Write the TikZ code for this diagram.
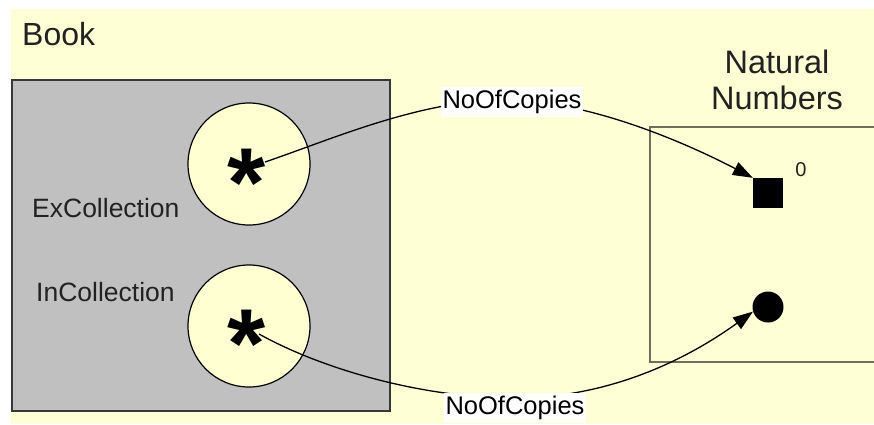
\documentclass[tikz,border=0pt]{standalone}
\usepackage{fontspec}
\setmainfont{Liberation Sans}
\usetikzlibrary{arrows.meta}
\definecolor{bgyel}{HTML}{FFFFD5}
\definecolor{cirfill}{HTML}{FFFFD2}
\definecolor{boxgray}{HTML}{C0C0C0}
\definecolor{boxedge}{HTML}{383838}
\definecolor{nnedge}{HTML}{6E6E5E}
\definecolor{txt}{HTML}{222222}
\begin{document}
\begin{tikzpicture}[x=1pt,y=-1pt,
  title/.style={font=\fontsize{32}{36}\selectfont, text=txt, inner sep=0pt},
  setlabel/.style={font=\fontsize{26.5}{30}\selectfont, text=txt, inner sep=0pt, anchor=base west},
  rolelabel/.style={font=\fontsize{25.5}{28}\selectfont, text=black, fill=white, inner xsep=1.5pt, inner ysep=3pt},
  elemcircle/.style={circle, draw=black, line width=1.2pt, fill=cirfill, minimum size=122pt, inner sep=0pt},
  star/.style={font=\bfseries\fontsize{98}{98}\selectfont, inner sep=0pt, anchor=base},
  conn/.style={line width=1.3pt, -{Triangle[length=20pt,width=14pt]}}
]
\useasboundingbox (0,0) rectangle (874,424);
\fill[white] (0,0) rectangle (874,424);
\fill[bgyel] (11,9) rectangle (874,424);

% Book box
\node[title, anchor=base west] (book) at (22,45) {Book};
\draw[boxedge, line width=2pt, fill=boxgray] (12,80) rectangle (390,411);
\node[setlabel] (exc) at (32,217) {ExCollection};
\node[setlabel] (inc) at (36,301) {InCollection};
\node[elemcircle] (c1) at (249,164) {};
\node[elemcircle] (c2) at (249,326) {};
\node[star] (s1) at (247,216) {*};
\node[star] (s2) at (247,377) {*};
\coordinate (a1) at (265,162);
\coordinate (a2) at (259,334);

% Natural numbers
\node[title, font=\fontsize{32.5}{36}\selectfont, anchor=base] (nat) at (777,73) {Natural};
\node[title, font=\fontsize{32.5}{36}\selectfont, anchor=base] (num) at (777,109) {Numbers};
\draw[nnedge, line width=2.5pt] (880,127) -- (650,127) -- (650,362) -- (880,362);
\node[fill=black, minimum size=30pt, inner sep=0pt] (sq) at (768,193) {};
\node[font=\fontsize{20}{24}\selectfont, text=txt, inner sep=0pt] (zero) at (801,170) {0};
\node[circle, fill=black, minimum size=31pt, inner sep=0pt] (dot) at (768,307) {};

% connectors
\coordinate (m1) at (505,100);
\coordinate (m2) at (515,398);
\draw[conn] (a1) .. controls (330,140) and (420,100) .. (m1)
  .. controls (590,100) and (690,145) .. (sq.north west);
\draw[conn] (a2) .. controls (320,368) and (420,398) .. (m2)
  .. controls (620,398) and (700,350) .. (dot.197);
\node[rolelabel] (l1) at (512,102) {NoOfCopies};
\node[rolelabel] (l2) at (515,408) {NoOfCopies};
\end{tikzpicture}
\end{document}
